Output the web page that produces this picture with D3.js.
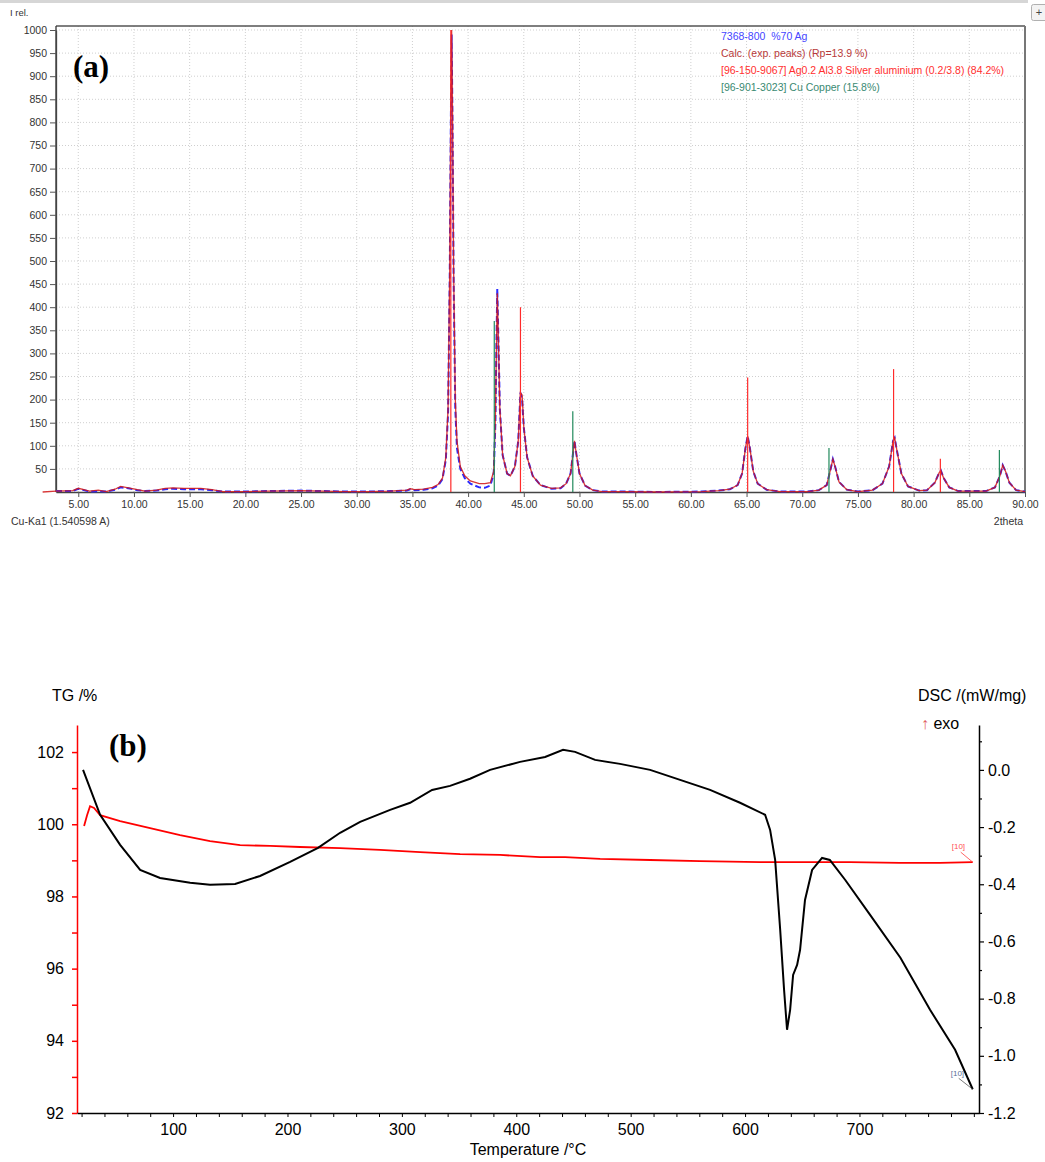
<!DOCTYPE html>
<html>
<head>
<meta charset="utf-8">
<script src="https://cdn.jsdelivr.net/npm/d3@7"></script>
<style>
  body { margin: 0; background: #fff; }
  svg { display: block; font-family: "Liberation Sans", Arial, sans-serif; }
</style>
</head>
<body>
<svg id="chart" width="1045" height="1162"></svg>
<script>
// ---------- (a) XRD data ----------
var xrdTheta = [1.8, 3.0, 4.5, 5.0, 5.5, 6.0, 6.8, 7.5, 8.3, 8.8, 9.5, 10.3, 11.0, 12.0, 12.8, 13.5, 14.5, 16.0, 17.0, 18.0,
  20.0, 22.0, 25.0, 27.0, 29.0, 31.0, 33.0, 34.5, 34.8, 35.2, 36.0, 36.8, 37.3, 37.7, 38.0, 38.2, 38.35, 38.45, 38.52,
  38.6, 38.7, 38.85, 39.0, 39.3, 39.7, 40.2, 41.0, 41.5, 42.0, 42.3, 42.45, 42.55, 42.62, 42.72, 42.85, 43.1, 43.5,
  43.8, 44.2, 44.5, 44.7, 44.85, 45.0, 45.3, 45.8, 46.5, 47.5, 48.3, 48.8, 49.2, 49.45, 49.55, 49.7, 50.0, 50.5, 51.2,
  52.0, 54.0, 57.0, 61.0, 62.5, 63.5, 64.2, 64.6, 64.9, 65.1, 65.3, 65.6, 66.0, 66.8, 68.0, 70.5, 71.5, 72.2, 72.55,
  72.75, 72.95, 73.3, 74.0, 75.0, 76.3, 77.2, 77.8, 78.15, 78.3, 78.5, 78.9, 79.5, 80.5, 81.2, 81.9, 82.3, 82.45, 82.7,
  83.2, 84.0, 86.5, 87.3, 87.75, 88.0, 88.25, 88.6, 89.2, 90.0];
var xrdObs = [null, 2, 2, 7, 4, 1, 2, 1, 5, 10, 8, 4, 2, 3, 6, 7, 6, 6, 4, 1,
  1, 2, 3, 2, 1, 1, 2, 3, 6, 4, 5, 8, 14, 28, 70, 170, 460, 800, 990,
  800, 460, 180, 95, 50, 30, 18, 10, 9, 14, 40, 150, 330, 440, 330, 180, 80, 40,
  35, 55, 110, 215, 200, 140, 75, 35, 15, 7, 8, 18, 40, 90, 111, 85, 40, 14, 4,
  1, 1, 0, 1, 3, 6, 15, 40, 95, 121, 95, 45, 18, 5, 1, 1, 4, 15, 50,
  71, 55, 22, 5, 1, 4, 18, 55, 110, 117, 90, 40, 12, 3, 4, 20, 42, 46, 30,
  10, 2, 2, 10, 35, 58, 45, 20, 4, 1];
var xrdCalc = [0, 2, 3, 8, 5, 2, 4, 1, 6, 12, 9, 5, 2, 4, 8, 9, 8, 8, 5, 1,
  1, 2, 3, 2, 1, 1, 2, 4, 7, 5, 6, 10, 16, 30, 75, 180, 480, 850, 1000,
  820, 480, 200, 110, 55, 35, 24, 18, 18, 20, 45, 160, 320, 430, 330, 180, 80, 40,
  35, 55, 110, 215, 210, 140, 75, 35, 15, 8, 9, 18, 40, 90, 111, 85, 40, 14, 4,
  1, 1, 0, 1, 3, 6, 15, 40, 95, 121, 95, 45, 18, 5, 1, 1, 4, 15, 50,
  71, 55, 22, 5, 1, 4, 18, 55, 110, 117, 90, 40, 12, 3, 4, 20, 42, 46, 30,
  10, 2, 2, 10, 35, 58, 45, 20, 4, 1];

// reference patterns (stick lines)
var agalTheta = [38.45, 44.7, 65.1, 78.2, 82.4];
var agalInt = [1000, 400, 248, 266, 72];
var cuTheta = [42.35, 49.4, 72.4, 87.7];
var cuInt = [370, 175, 95, 91];

var xrdTicksY = d3.range(50, 1001, 50);
var xrdTicksX = d3.range(5, 91, 5);
var legendLabels = ["7368-800  %70 Ag", "Calc. (exp. peaks) (Rp=13.9 %)",
  "[96-150-9067] Ag0.2 Al3.8 Silver aluminium (0.2/3.8) (84.2%)", "[96-901-3023] Cu Copper (15.8%)"];

// ---------- (b) TG / DSC data ----------
var dscTemp = [21.3, 36.2, 53.7, 71.2, 88.6, 114.9, 132.3, 154.2, 176.0, 202.3, 226.7, 246.0, 263.5, 289.7, 307.2,
  326.4, 342.1, 359.6, 377.1, 403.3, 425.2, 440.9, 451.4, 468.9, 490.7, 517.0, 543.2, 569.4, 595.6, 617.5, 621.9,
  626.3, 630.7, 634.1, 636.7, 639.4, 642.0, 645.5, 648.1, 652.4, 658.6, 667.3, 674.1, 687.6, 709.3, 735.8, 761.7,
  783.6, 799.0];
var dscVal = [0.00, -0.157, -0.262, -0.350, -0.378, -0.395, -0.402, -0.399, -0.371, -0.322, -0.273, -0.220, -0.182,
  -0.140, -0.115, -0.070, -0.056, -0.031, 0.00, 0.028, 0.045, 0.070, 0.063, 0.035, 0.021, 0.00, -0.035, -0.070,
  -0.115, -0.157, -0.210, -0.315, -0.559, -0.769, -0.909, -0.839, -0.717, -0.682, -0.629, -0.455, -0.350, -0.308,
  -0.315, -0.385, -0.507, -0.657, -0.839, -0.979, -1.117];

var tgTemp = [22.2, 24.8, 27.4, 30.9, 36.2, 53.7, 79.9, 106.1, 132.3, 158.6, 184.8, 211.0, 246.0, 280.9, 315.9,
  350.9, 385.8, 420.8, 442.7, 473.3, 517.0, 560.7, 613.1, 648.1, 691.8, 735.5, 770.5, 799.0];
var tgVal = [99.95, 100.25, 100.50, 100.45, 100.25, 100.09, 99.89, 99.70, 99.53, 99.42, 99.40, 99.37, 99.34, 99.29,
  99.23, 99.17, 99.15, 99.09, 99.09, 99.04, 99.01, 98.98, 98.95, 98.95, 98.95, 98.93, 98.93, 98.95];

var tgTicks = d3.range(92, 103, 1);
var dscTicks = d3.range(-12, 2, 1);   // tenths
var tempTicks = d3.range(20, 801, 20);
var tempLabels = [100, 200, 300, 400, 500, 600, 700];

var svg = d3.select("#chart");

// window chrome at the top
svg.append("rect").attr("x", 0).attr("y", 0).attr("width", 1028).attr("height", 3).attr("fill", "#d6d6d6");
svg.append("rect").attr("x", 1031.5).attr("y", 4.5).attr("width", 16).attr("height", 16).attr("rx", 2)
  .attr("fill", "#f3f3f3").attr("stroke", "#b0b0b0");
svg.append("text").attr("x", 1039).attr("y", 16).attr("text-anchor", "middle")
  .attr("font-size", 11).attr("fill", "#444").text("+");

// ===================== chart (a) =====================
var xA = d3.scaleLinear().domain([3, 90]).range([56, 1025]);
var yA = d3.scaleLinear().domain([0, 1000]).range([492, 30]);

// dotted grid
svg.append("g").selectAll("line").data(xrdTicksY).enter().append("line")
  .attr("x1", xA(3)).attr("x2", xA(90))
  .attr("y1", function(d) { return yA(d); }).attr("y2", function(d) { return yA(d); })
  .attr("stroke", "#cfcfcf").attr("stroke-dasharray", "1,2");
svg.append("g").selectAll("line").data(xrdTicksX.filter(function(d) { return d < 90; })).enter().append("line")
  .attr("x1", function(d) { return xA(d); }).attr("x2", function(d) { return xA(d); })
  .attr("y1", 26).attr("y2", yA(0))
  .attr("stroke", "#cfcfcf").attr("stroke-dasharray", "1,2");

// frame
svg.append("line").attr("x1", xA(3)).attr("x2", xA(90)).attr("y1", 26).attr("y2", 26)
  .attr("stroke", "#555").attr("stroke-width", 1.5);
svg.append("line").attr("x1", xA(90)).attr("x2", xA(90)).attr("y1", 26).attr("y2", yA(0))
  .attr("stroke", "#777").attr("stroke-width", 2);
svg.append("line").attr("x1", xA(3)).attr("x2", xA(3)).attr("y1", 26).attr("y2", yA(0))
  .attr("stroke", "#333").attr("stroke-width", 1.3);

var axA_y = svg.append("g").attr("transform", "translate(" + xA(3) + ",0)")
  .call(d3.axisLeft(yA).tickValues(xrdTicksY).tickFormat(d3.format("d")).tickSize(6).tickSizeOuter(0).tickPadding(3));
var axA_x = svg.append("g").attr("transform", "translate(0," + yA(0) + ")")
  .call(d3.axisBottom(xA).tickValues(xrdTicksX).tickFormat(d3.format(".2f")).tickSize(5).tickSizeOuter(0).tickPadding(4));
[axA_y, axA_x].forEach(function(g) {
  g.select(".domain").attr("stroke", "#444").attr("stroke-width", 1.3);
  g.selectAll(".tick line").attr("stroke", "#555");
  g.selectAll("text").attr("font-family", "Liberation Sans, Arial, sans-serif")
    .attr("font-size", 10.5).attr("fill", "#333");
});

// measured + calculated profiles
var lineObs = d3.line().defined(function(d, i) { return xrdObs[i] !== null; })
  .x(function(d) { return xA(d); }).y(function(d, i) { return yA(xrdObs[i]); });
var lineCalc = d3.line()
  .x(function(d) { return xA(d); }).y(function(d, i) { return yA(xrdCalc[i]); });

svg.append("path").datum(xrdTheta).attr("d", lineObs)
  .attr("fill", "none").attr("stroke", "#2a2aff").attr("stroke-width", 2).attr("stroke-dasharray", "6,3");
svg.append("path").datum(xrdTheta).attr("d", lineCalc)
  .attr("fill", "none").attr("stroke", "#d11515").attr("stroke-width", 1.3).attr("stroke-opacity", 0.85);

// stick patterns
svg.append("g").selectAll("line").data(agalTheta).enter().append("line")
  .attr("x1", function(d) { return xA(d); }).attr("x2", function(d) { return xA(d); })
  .attr("y1", yA(0)).attr("y2", function(d, i) { return yA(agalInt[i]); })
  .attr("stroke", "#ff2a2a").attr("stroke-width", 1.2);
svg.append("g").selectAll("line").data(cuTheta).enter().append("line")
  .attr("x1", function(d) { return xA(d); }).attr("x2", function(d) { return xA(d); })
  .attr("y1", yA(0)).attr("y2", function(d, i) { return yA(cuInt[i]); })
  .attr("stroke", "#218a5c").attr("stroke-width", 1.2);

// legend
var legendColors = ["#4444ff", "#b83a3a", "#ff2e2e", "#3a8a72"];
svg.append("g").selectAll("text").data(legendLabels).enter().append("text")
  .attr("x", 721).attr("y", function(d, i) { return 40 + i * 17; })
  .attr("font-size", 10.5).attr("fill", function(d, i) { return legendColors[i]; })
  .attr("xml:space", "preserve").text(function(d) { return d; });

svg.append("text").attr("x", 10).attr("y", 16).attr("font-size", 9.5).attr("fill", "#333").text("I rel.");
svg.append("text").attr("x", 11).attr("y", 525).attr("font-size", 10.5).attr("fill", "#333").text("Cu-Ka1 (1.540598 A)");
svg.append("text").attr("x", 1023).attr("y", 525).attr("text-anchor", "end").attr("font-size", 10.5)
  .attr("fill", "#333").text("2theta");
svg.append("text").attr("x", 73).attr("y", 77).attr("font-family", "Liberation Serif, Times New Roman, serif")
  .attr("font-weight", "bold").attr("font-size", 31).attr("fill", "#000").text("(a)");

// ===================== chart (b) =====================
var xB = d3.scaleLinear().domain([16, 804.5]).range([77, 979]);
var yTG = d3.scaleLinear().domain([92, 102.75]).range([1113, 725]);
var yDSC = d3.scaleLinear().domain([-1.2, 0.157]).range([1113, 725]);

var axTG = svg.append("g").attr("transform", "translate(" + xB(16) + ",0)")
  .call(d3.axisLeft(yTG).tickValues(tgTicks).tickSize(5).tickSizeOuter(0).tickPadding(8)
    .tickFormat(function(d) { return d % 2 === 0 ? d : ""; }));
axTG.select(".domain").attr("stroke", "#ff0000").attr("stroke-width", 1.5);
axTG.selectAll(".tick line").attr("stroke", "#ff0000").attr("stroke-width", 1.5);

var axDSC = svg.append("g").attr("transform", "translate(" + xB(804.5) + ",0)")
  .call(d3.axisRight(yDSC).tickValues(dscTicks.map(function(d) { return d / 10; })).tickSize(5)
    .tickSizeOuter(0).tickPadding(4)
    .tickFormat(function(d) { return Math.round(d * 10) % 2 === 0 ? d.toFixed(1) : ""; }));
axDSC.select(".domain").attr("stroke", "#000").attr("stroke-width", 1.5);
axDSC.selectAll(".tick line").attr("stroke", "#000").attr("stroke-width", 1.2)
  .attr("x2", function(d) { return Math.round(d * 10) % 2 === 0 ? 5 : 3; });

var axT = svg.append("g").attr("transform", "translate(0," + yTG(92) + ")")
  .call(d3.axisBottom(xB).tickValues(tempTicks).tickSize(4).tickSizeOuter(0).tickPadding(7)
    .tickFormat(function(d) { return tempLabels.indexOf(d) >= 0 ? d : ""; }));
axT.select(".domain").attr("stroke", "#000").attr("stroke-width", 1.5);
axT.selectAll(".tick line").attr("stroke", "#000");

[axTG, axDSC, axT].forEach(function(g) {
  g.selectAll("text").attr("font-family", "Liberation Sans, Arial, sans-serif")
    .attr("font-size", 16).attr("fill", "#000");
});

// curves
var lineTG = d3.line().x(function(d) { return xB(d); }).y(function(d, i) { return yTG(tgVal[i]); });
var lineDSC = d3.line().x(function(d) { return xB(d); }).y(function(d, i) { return yDSC(dscVal[i]); });

svg.append("path").datum(tgTemp).attr("d", lineTG)
  .attr("fill", "none").attr("stroke", "#ff0000").attr("stroke-width", 1.8);
svg.append("path").datum(dscTemp).attr("d", lineDSC)
  .attr("fill", "none").attr("stroke", "#000").attr("stroke-width", 2);

// segment markers at the curve ends
var tgEnd = [xB(tgTemp[tgTemp.length - 1]), yTG(tgVal[tgVal.length - 1])];
var dscEnd = [xB(dscTemp[dscTemp.length - 1]), yDSC(dscVal[dscVal.length - 1])];
svg.append("line").attr("x1", tgEnd[0] - 12).attr("y1", tgEnd[1] - 10).attr("x2", tgEnd[0]).attr("y2", tgEnd[1])
  .attr("stroke", "#ff4040").attr("stroke-width", 0.8);
svg.append("text").attr("x", tgEnd[0] - 21).attr("y", tgEnd[1] - 13).attr("font-size", 8)
  .attr("fill", "#ff5050").text("[10]");
svg.append("line").attr("x1", dscEnd[0] - 14).attr("y1", dscEnd[1] - 11).attr("x2", dscEnd[0]).attr("y2", dscEnd[1])
  .attr("stroke", "#555").attr("stroke-width", 0.8);
svg.append("text").attr("x", dscEnd[0] - 22).attr("y", dscEnd[1] - 13).attr("font-size", 8)
  .attr("fill", "#5a6f96").text("[10]");

// titles
svg.append("text").attr("x", 52).attr("y", 701).attr("font-size", 16).attr("fill", "#000").text("TG /%");
svg.append("text").attr("x", 918).attr("y", 701).attr("font-size", 16).attr("fill", "#000").text("DSC /(mW/mg)");
var exo = svg.append("text").attr("x", 921).attr("y", 729).attr("font-size", 16).attr("fill", "#000");
exo.append("tspan").attr("fill", "#e06060").text("\u2191");
exo.append("tspan").text(" exo");
svg.append("text").attr("x", 528).attr("y", 1155).attr("text-anchor", "middle")
  .attr("font-size", 16).attr("fill", "#000").text("Temperature /\u00b0C");
svg.append("text").attr("x", 109).attr("y", 756).attr("font-family", "Liberation Serif, Times New Roman, serif")
  .attr("font-weight", "bold").attr("font-size", 31).attr("fill", "#000").text("(b)");
</script>
</body>
</html>
